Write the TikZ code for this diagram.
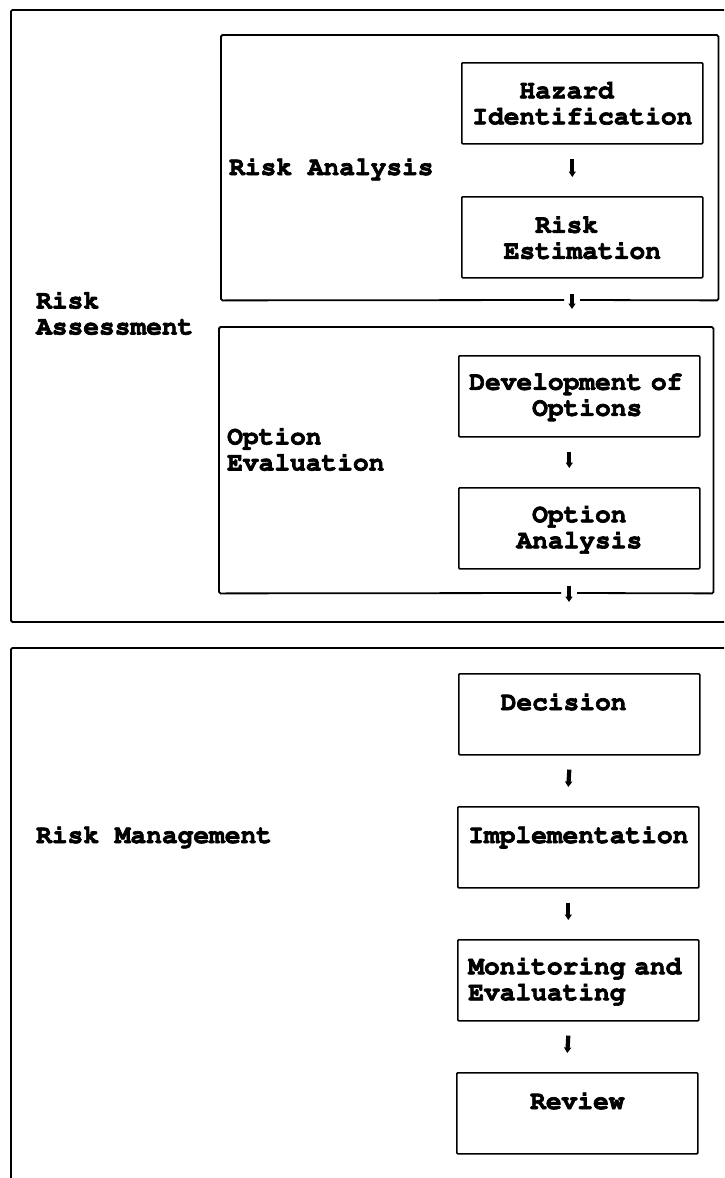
\documentclass[tikz,border=0pt]{standalone}
\usepackage[T1]{fontenc}
\usepackage{courier}
\usetikzlibrary{arrows.meta}
\newcommand{\boxfont}{\ttfamily\bfseries\fontsize{26.2}{26}\selectfont}
\newcommand{\heavy}[1]{\special{pdf:literal direct 2 Tr 0.7 w}#1\special{pdf:literal direct 0 Tr}}
\begin{document}
\begin{tikzpicture}[x=1pt,y=-1pt,
  frame/.style={draw, line width=1.8pt, rounded corners=1.5pt, inner sep=0pt, anchor=north west},
  cont/.style={inner sep=0pt, anchor=north west},
  stepbox/.style={draw, line width=1.6pt, rounded corners=1pt, minimum width=241pt, minimum height=81pt,
    inner xsep=0pt, inner ysep=0pt, text width=220pt, align=left, font=\boxfont, anchor=north west},
  lab/.style={font=\boxfont, align=left, inner sep=0pt},
  arr/.style={line width=4.2pt, -{Triangle[width=7pt,length=5.5pt]}},
  gapline/.style={line width=1.8pt, rounded corners=1.5pt}
]
\useasboundingbox (0,0) rectangle (724,1178);
\clip (0,0) rectangle (724,1178);

% outer frames
\node[frame, minimum width=750pt, minimum height=612pt] (assess) at (10,9) {};
\node[frame, minimum width=750pt, minimum height=560pt] (manage) at (10,647) {};

% containers
\node[cont, minimum width=497pt, minimum height=265pt] (ra) at (221,35) {};
\node[cont, minimum width=494pt, minimum height=266pt] (oe) at (219,327) {};
\coordinate (raout) at (572,300);
\coordinate (oeout) at (569,593);
\draw[gapline] ([xshift=-8pt]raout) -- (ra.south west) -- (ra.north west) -- (ra.north east) -- (ra.south east) -- ([xshift=8pt]raout);
\draw[gapline] ([xshift=-8pt]oeout) -- (oe.south west) -- (oe.north west) -- (oe.north east) -- (oe.south east) -- ([xshift=8pt]oeout);
\draw[arr] ([yshift=6pt]raout) -- ([yshift=-9pt]raout);
\draw[arr] ([yshift=7pt]oeout) -- ([yshift=-9pt]oeout);

% step boxes
\node[stepbox] (haz) at (461,62) {\heavy{\hspace*{1.8em}Hazard\\Identification}};
\node[stepbox] (est) at (461,196) {\heavy{\hspace*{2.4em}Risk\\\hspace*{1.2em}Estimation}};
\node[stepbox] (dev) at (458,355) {\heavy{Development of\\\hspace*{2.4em}Options}};
\node[stepbox] (opt) at (458,487) {\heavy{\hspace*{2.4em}Option\\\hspace*{1.8em}Analysis}};
\node[stepbox] (dec) at (458,673) {\heavy{\hspace*{1.2em}Decision\\\mbox{}}};
\node[stepbox] (imp) at (457,806) {\heavy{Implementation\\\mbox{}}};
\node[stepbox] (mon) at (457,939) {\heavy{Monitoring and\\Evaluating}};
\node[stepbox] (rev) at (456,1072) {\heavy{\hspace*{2.4em}Review\\\mbox{}}};

% arrows between steps
\foreach \a/\b in {haz/est, dev/opt, dec/imp, imp/mon, mon/rev}
  \draw[arr] ([xshift=-10pt,yshift=-14pt]\a.south) -- ([xshift=-10pt,yshift=19pt]\b.north);

% labels
\node[lab, anchor=base west] (lra) at (229,175) {\heavy{Risk Analysis}};
\node[lab, anchor=west] (lass) at (36,313) {\heavy{Risk\\Assessment}};
\node[lab, anchor=west] (loe) at (227,449) {\heavy{Option\\Evaluation}};
\node[lab, anchor=base west] (lrm) at (36,843) {\heavy{Risk Management}};
\end{tikzpicture}
\end{document}
